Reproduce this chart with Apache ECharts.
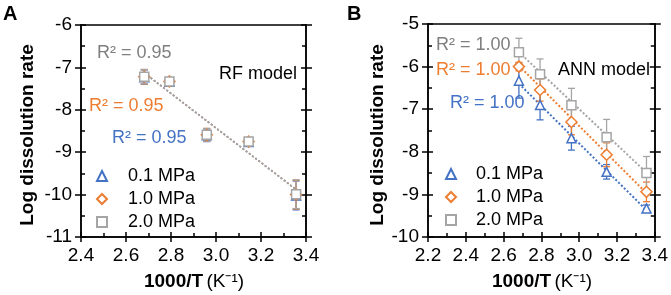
<!DOCTYPE html>
<html><head><meta charset="utf-8">
<script src="https://cdn.jsdelivr.net/npm/echarts@6/dist/echarts.min.js"></script>
<style>html,body{margin:0;padding:0;background:#fff}#c{width:671px;height:295px}</style>
</head><body><div id="c"></div>
<script>
// ---- data ----
const xVals = [2.681, 2.793, 2.959, 3.145, 3.356];
const pressures = ['0.1 MPa', '1.0 MPa', '2.0 MPa'];
// Panel A (RF model)
const rf01 = [-7.23, -7.34, -8.60, -8.76, -10.02];
const rf10 = [-7.22, -7.33, -8.59, -8.75, -10.00];
const rf20 = [-7.22, -7.33, -8.59, -8.75, -9.99];
const rfErr = [0.17, 0.08, 0.15, 0.04, 0.34];
const trendX = [2.681, 3.356];
const rfTrend01 = [-7.13, -9.88];
const rfTrend10 = [-7.13, -9.88];
const rfTrend20 = [-7.13, -9.88];
// Panel B (ANN model)
const ann01 = [-6.33, -6.90, -7.68, -8.47, -9.33];
const ann10 = [-6.00, -6.55, -7.30, -8.07, -8.94];
const ann20 = [-5.665, -6.18, -6.91, -7.66, -8.50];
const annErr01 = [0.41, 0.35, 0.28, 0.17, 0.08];
const annErr10 = [0.10, 0.26, 0.30, 0.28, 0.23];
const annErr20 = [0.33, 0.36, 0.40, 0.42, 0.39];
const annTrend01 = [-6.40, -9.37];
const annTrend10 = [-5.98, -8.97];
const annTrend20 = [-5.66, -8.49];
const r2A = ['R² = 0.95', 'R² = 0.95', 'R² = 0.95'];
const r2B = ['R² = 1.00', 'R² = 1.00', 'R² = 1.00'];
const xTicksA = {min: 2.4, max: 3.4, interval: 0.2};
const yTicksA = {min: -11, max: -6, interval: 1};
const xTicksB = {min: 2.2, max: 3.4, interval: 0.2};
const yTicksB = {min: -10, max: -5, interval: 1};

const BLUE = '#4472C4', ORANGE = '#ED7D31', GRAY = '#A5A5A5';
const colors = [BLUE, ORANGE, GRAY];
const symbols = ['triangle', 'diamond', 'rect'];
const FONT = 'Liberation Sans, Arial, sans-serif';

const chart = echarts.init(document.getElementById('c'), null, {renderer: 'canvas'});

function axesFor(gi, xr, yr) {
  const line = {show: true, lineStyle: {color: '#000', width: 1.5}};
  const xs = [
    {gridIndex: gi, type: 'value', position: 'bottom', ...xr, axisLine: line,
     axisTick: {show: true, inside: false, length: 5, lineStyle: {color: '#000', width: 1.5}},
     axisLabel: {show: true, margin: 9, fontSize: 19, color: '#000', fontFamily: FONT,
       formatter: v => v.toFixed(1)}, splitLine: {show: false}},
    {gridIndex: gi, type: 'value', position: 'bottom', ...xr, axisLine: line,
     axisTick: {show: true, inside: true, length: 5, lineStyle: {color: '#000', width: 1.5}},
     minorTick: {show: true, splitNumber: 2, length: 4, lineStyle: {color: '#000', width: 1.5}},
     axisLabel: {show: false}, splitLine: {show: false}},
    {gridIndex: gi, type: 'value', position: 'top', ...xr, axisLine: line,
     axisTick: {show: false}, axisLabel: {show: false}, splitLine: {show: false}}
  ];
  const ys = [
    {gridIndex: gi, type: 'value', position: 'left', ...yr, axisLine: line,
     axisTick: {show: true, inside: false, length: 6, lineStyle: {color: '#000', width: 1.5}},
     axisLabel: {show: true, margin: 9, fontSize: 19, color: '#000', fontFamily: FONT},
     splitLine: {show: false}},
    {gridIndex: gi, type: 'value', position: 'left', ...yr, axisLine: line,
     axisTick: {show: true, inside: true, length: 5, lineStyle: {color: '#000', width: 1.5}},
     minorTick: {show: true, splitNumber: 2, length: 4, lineStyle: {color: '#000', width: 1.5}},
     axisLabel: {show: false}, splitLine: {show: false}},
    {gridIndex: gi, type: 'value', position: 'right', ...yr, axisLine: line,
     axisTick: {show: true, inside: false, length: 6, lineStyle: {color: '#000', width: 1.5}},
     axisLabel: {show: false}, splitLine: {show: false}},
    {gridIndex: gi, type: 'value', position: 'right', ...yr, axisLine: line,
     axisTick: {show: true, inside: true, length: 5, lineStyle: {color: '#000', width: 1.5}},
     minorTick: {show: true, splitNumber: 2, length: 4, lineStyle: {color: '#000', width: 1.5}},
     axisLabel: {show: false}, splitLine: {show: false}}
  ];
  return {xs, ys};
}
const aA = axesFor(0, xTicksA, yTicksA);
const aB = axesFor(1, xTicksB, yTicksB);

function pairs(xs, ys) { return xs.map((x, i) => [x, ys[i]]); }
function errData(ys, es) { return xVals.map((x, i) => [x, ys[i], es[i]]); }

function errSeries(xi, yi, ys, es, color) {
  return {
    type: 'custom', xAxisIndex: xi, yAxisIndex: yi, silent: true,
    data: errData(ys, es), z: 3,
    renderItem: (params, api) => {
      const x = api.value(0), y = api.value(1), e = api.value(2);
      const top = api.coord([x, y + e]), bot = api.coord([x, y - e]);
      const w = 3.5;
      const st = {stroke: color, lineWidth: 1.3, fill: null};
      return {type: 'group', children: [
        {type: 'line', shape: {x1: top[0], y1: top[1], x2: bot[0], y2: bot[1]}, style: st},
        {type: 'line', shape: {x1: top[0] - w, y1: top[1], x2: top[0] + w, y2: top[1]}, style: st},
        {type: 'line', shape: {x1: bot[0] - w, y1: bot[1], x2: bot[0] + w, y2: bot[1]}, style: st}
      ]};
    }
  };
}
function trendSeries(xi, yi, ys, color, width) {
  return {type: 'line', xAxisIndex: xi, yAxisIndex: yi, data: pairs(trendX, ys), symbol: 'none',
    silent: true, z: 2, lineStyle: {color: color, width: width, type: [2, 2]}};
}
function scatterSeries(xi, yi, name, ys, k) {
  return {type: 'scatter', name: name, xAxisIndex: xi, yAxisIndex: yi, data: pairs(xVals, ys),
    symbol: symbols[k], symbolSize: k === 1 ? 11 : 9, z: 5,
    itemStyle: {color: '#fff', borderColor: colors[k], borderWidth: 1.5, opacity: 1}};
}

const series = [];
// Panel A
const rfY = [rf01, rf10, rf20], rfT = [rfTrend01, rfTrend10, rfTrend20];
for (let k = 0; k < 3; k++) {
  series.push(trendSeries(0, 0, rfT[k], colors[k], k === 2 ? 2 : 1.2));
  series.push(errSeries(0, 0, rfY[k], rfErr, colors[k]));
  series.push(scatterSeries(0, 0, pressures[k], rfY[k], k));
}
// Panel B
const annY = [ann01, ann10, ann20], annE = [annErr01, annErr10, annErr20], annT = [annTrend01, annTrend10, annTrend20];
for (let k = 0; k < 3; k++) {
  series.push(trendSeries(3, 4, annT[k], colors[k], 2));
  series.push(errSeries(3, 4, annY[k], annE[k], colors[k]));
  series.push(scatterSeries(3, 4, pressures[k], annY[k], k));
}

function txt(x, y, text, color, opts) {
  return Object.assign({type: 'text', x: x, y: y, silent: true, style: Object.assign({
    text: text, fill: color, font: '18px ' + FONT, textAlign: 'left', textVerticalAlign: 'middle'
  }, (opts && opts.style) || {})}, (opts && opts.el) || {});
}
const graphics = [
  txt(3, 14, 'A', '#000', {style: {font: 'bold 20px ' + FONT}}),
  txt(347, 14, 'B', '#000', {style: {font: 'bold 20px ' + FONT}}),
  txt(97, 53, r2A[2], '#7F7F7F'),
  txt(89, 106, r2A[1], ORANGE),
  txt(112, 138, r2A[0], BLUE),
  txt(219, 74, 'RF model', '#000'),
  txt(436, 45, r2B[2], '#7F7F7F'),
  txt(436, 70, r2B[1], ORANGE),
  txt(450, 103, r2B[0], BLUE),
  txt(558, 70, 'ANN model', '#000'),
  txt(28, 135, 'Log dissolution rate', '#000', {style: {font: 'bold 19px ' + FONT, textAlign: 'center'}, el: {rotation: Math.PI / 2}}),
  txt(378, 135, 'Log dissolution rate', '#000', {style: {font: 'bold 19px ' + FONT, textAlign: 'center'}, el: {rotation: Math.PI / 2}}),
  {type: 'text', x: 194, y: 282, silent: true, style: {
    text: '{b|1000/T} {n|(K⁻¹)}', textAlign: 'center', textVerticalAlign: 'middle',
    rich: {b: {font: 'bold 19px ' + FONT, fill: '#000'}, n: {font: '19px ' + FONT, fill: '#000'}}}},
  {type: 'text', x: 542, y: 282, silent: true, style: {
    text: '{b|1000/T} {n|(K⁻¹)}', textAlign: 'center', textVerticalAlign: 'middle',
    rich: {b: {font: 'bold 19px ' + FONT, fill: '#000'}, n: {font: '19px ' + FONT, fill: '#000'}}}}
];

const legendBase = {orient: 'vertical', data: pressures, itemWidth: 10, itemHeight: 10, itemGap: 5,
  textStyle: {fontSize: 18, color: '#000', fontFamily: FONT}, selectedMode: false};

chart.setOption({
  animation: false,
  grid: [
    {left: 81, top: 25, width: 225, height: 212},
    {left: 428, top: 24, width: 228, height: 213}
  ],
  xAxis: aA.xs.concat(aB.xs),
  yAxis: aA.ys.concat(aB.ys),
  legend: [
    Object.assign({left: 91, top: 162}, legendBase, {textStyle: Object.assign({}, legendBase.textStyle, {padding: [0, 0, 0, 16]})}),
    Object.assign({left: 440, top: 160}, legendBase, {textStyle: Object.assign({}, legendBase.textStyle, {padding: [0, 0, 0, 15]})})
  ],
  graphic: graphics,
  series: series
});
</script></body></html>
